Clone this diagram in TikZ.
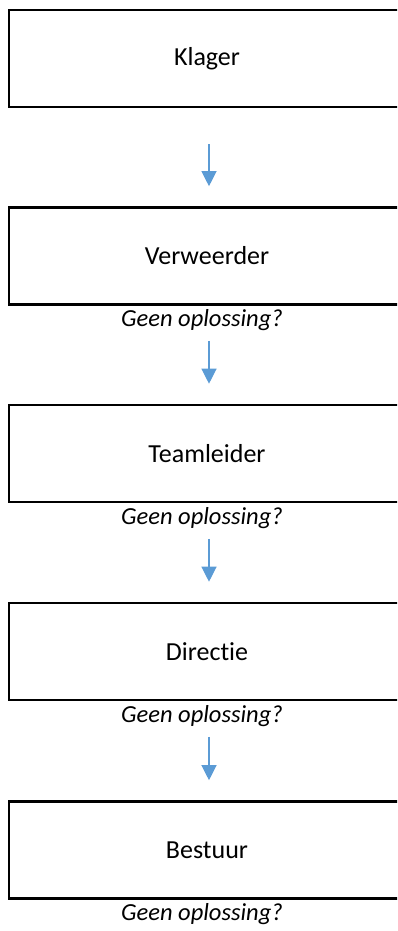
\documentclass[tikz,border=0pt]{standalone}
\usepackage{fontspec}
\setmainfont{Carlito}[Ligatures={NoCommon}]
\usetikzlibrary{arrows.meta}
\definecolor{arrBlue}{HTML}{5B9BD5}

\begin{document}
\begin{tikzpicture}[
    x=1pt, y=-1pt,
    box/.style={draw=black, line width=2.6pt, minimum width=396pt,
        minimum height=97pt, inner sep=0pt, font=\fontsize{26}{30}\selectfont},
    lbl/.style={font=\fontsize{24.5}{28}\selectfont\itshape, inner sep=0pt},
    arr/.style={-{Triangle[width=15pt, length=15pt]}, line width=1.2pt, arrBlue},
]
\def\bx{207}

% page frame (right border of the boxes falls just outside)
\useasboundingbox (0,0) rectangle (397,931);
\clip (0,0) rectangle (397,931);

% boxes
\node[box] (klager)     at (\bx, 58.5)  {Klager};
\node[box] (verweerder) at (\bx, 256)   {Verweerder};
\node[box] (teamleider) at (\bx, 453.5) {Teamleider};
\node[box] (directie)   at (\bx, 651.5) {Directie};
\node[box] (bestuur)    at (\bx, 850)   {Bestuur};

% question labels under the boxes
\node[lbl] (q1) at (\bx-5, 320) {Geen oplossing?};
\node[lbl] (q2) at (\bx-5, 518) {Geen oplossing?};
\node[lbl] (q3) at (\bx-5, 716) {Geen oplossing?};
\node[lbl] (q4) at (\bx-5, 914) {Geen oplossing?};

% arrows
\draw[arr, shorten <=36pt, shorten >=20pt]
    ([xshift=2pt]klager.south) -- ([xshift=2pt]verweerder.north);
\draw[arr, shorten <=10pt, shorten >=20pt]
    ([xshift=7pt]q1.south) -- ([xshift=2pt]teamleider.north);
\draw[arr, shorten <=10pt, shorten >=20pt]
    ([xshift=7pt]q2.south) -- ([xshift=2pt]directie.north);
\draw[arr, shorten <=10pt, shorten >=20pt]
    ([xshift=7pt]q3.south) -- ([xshift=2pt]bestuur.north);

\end{tikzpicture}
\end{document}
